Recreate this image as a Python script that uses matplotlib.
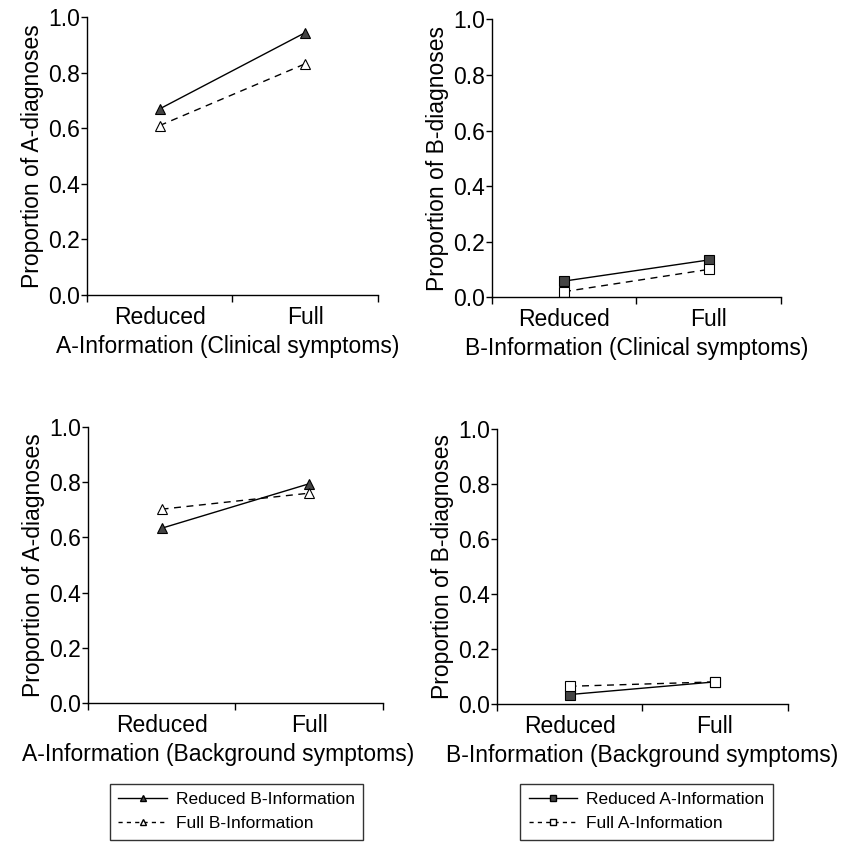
import matplotlib.pyplot as plt
from matplotlib.lines import Line2D

plt.rcParams['font.family'] = ['Liberation Sans', 'DejaVu Sans']

# x categories
levels = ['Reduced', 'Full']
xpos = [1, 3]

# top-left: A-diagnoses vs A-information (clinical)
tl_reduced_b = [0.67, 0.944]
tl_full_b = [0.61, 0.832]

# top-right: B-diagnoses vs B-information (clinical)
tr_reduced_a = [0.058, 0.134]
tr_full_a = [0.020, 0.100]

# bottom-left: A-diagnoses vs A-information (background)
bl_reduced_b = [0.633, 0.794]
bl_full_b = [0.702, 0.760]

# bottom-right: B-diagnoses vs B-information (background)
br_reduced_a = [0.034, 0.080]
br_full_a = [0.064, 0.080]

yticks = [0.0, 0.2, 0.4, 0.6, 0.8, 1.0]

fig = plt.figure(figsize=(8.45, 8.42), dpi=100)

# rect, solid series, dashed series, marker, ylabel, xlabel, xlabel x-position
panels = [
    ([0.103, 0.6496, 0.344, 0.330], tl_reduced_b, tl_full_b, '^',
     'Proportion of A-diagnoses', 'A-Information (Clinical symptoms)', 0.485),
    ([0.582, 0.647, 0.342, 0.330], tr_reduced_a, tr_full_a, 's',
     'Proportion of B-diagnoses', 'B-Information (Clinical symptoms)', 0.5),
    ([0.104, 0.165, 0.349, 0.328], bl_reduced_b, bl_full_b, '^',
     'Proportion of A-diagnoses', 'A-Information (Background symptoms)', 0.44),
    ([0.588, 0.164, 0.344, 0.327], br_reduced_a, br_full_a, 's',
     'Proportion of B-diagnoses', 'B-Information (Background symptoms)', 0.5),
]

dash = (0, (5, 4))
fs = 16.5

for rect, solid, dashed, mk, ylab, xlab, xl_x in panels:
    ax = fig.add_axes(rect)
    ms = 6.5
    ax.plot(xpos, solid, color='black', lw=1.0, marker=mk, ms=ms,
            mfc='#444444', mec='black', mew=0.8)
    ax.plot(xpos, dashed, color='black', lw=1.0, ls=dash, marker=mk, ms=ms,
            mfc='white', mec='black', mew=0.8)
    ax.set_xlim(0, 4)
    ax.set_ylim(0, 1.0)
    ax.spines['top'].set_visible(False)
    ax.spines['right'].set_visible(False)
    ax.spines['left'].set_linewidth(1.0)
    ax.spines['bottom'].set_linewidth(1.0)
    ax.set_yticks(yticks)
    ax.set_yticklabels([f'{v:.1f}' for v in yticks], fontsize=fs)
    ax.tick_params(axis='y', direction='out', length=4, width=1, pad=1)
    ax.set_xticks([0, 2, 4])
    ax.set_xticklabels([])
    ax.tick_params(axis='x', which='major', direction='out', length=5, width=1)
    ax.set_xticks(xpos, minor=True)
    ax.set_xticklabels(levels, minor=True, fontsize=fs)
    ax.tick_params(axis='x', which='minor', length=0, pad=8)
    ax.set_ylabel(ylab, fontsize=fs, labelpad=3)
    ax.set_xlabel(xlab, fontsize=fs, labelpad=4)
    ax.xaxis.label.set_x(xl_x)

# legends
leg_kw = dict(fontsize=12.5, frameon=True, fancybox=False, handlelength=2.8,
              borderpad=0.5, labelspacing=0.5, handletextpad=0.5, loc='center')

h_tri = [Line2D([], [], color='black', lw=1.0, marker='^', ms=5, mfc='#444444', mec='black'),
         Line2D([], [], color='black', lw=1.0, ls=(0, (3, 3)), marker='^', ms=5, mfc='white', mec='black')]
h_sq = [Line2D([], [], color='black', lw=1.0, marker='s', ms=5, mfc='#444444', mec='black'),
        Line2D([], [], color='black', lw=1.0, ls=(0, (3, 3)), marker='s', ms=5, mfc='white', mec='black')]

lg1 = fig.legend(h_tri, ['Reduced B-Information', 'Full B-Information'],
                 bbox_to_anchor=(0.280, 0.036), **leg_kw)
lg2 = fig.legend(h_sq, ['Reduced A-Information', 'Full A-Information'],
                 bbox_to_anchor=(0.765, 0.036), **leg_kw)
for lg in (lg1, lg2):
    lg.get_frame().set_edgecolor('black')
    lg.get_frame().set_linewidth(1.0)

fig.savefig('out.png', dpi=100)
